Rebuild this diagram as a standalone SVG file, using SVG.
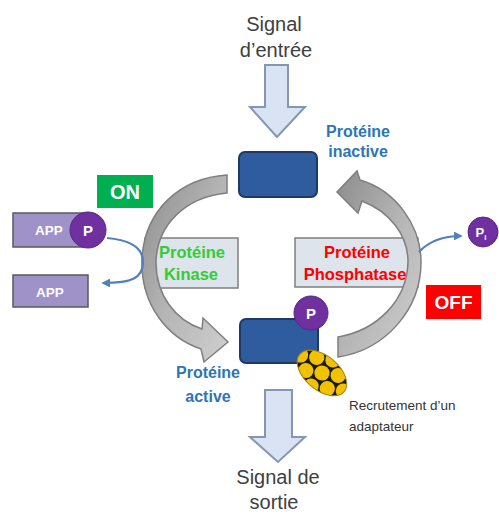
<svg xmlns="http://www.w3.org/2000/svg" width="499" height="514" viewBox="0 0 499 514">
<defs>
<style>
.lbl{font-family:"Liberation Sans",Arial,sans-serif;fill:#404040;font-size:20px;text-anchor:middle}
.blue{font-family:"Liberation Sans",Arial,sans-serif;fill:#2e75b6;font-size:16px;font-weight:bold;text-anchor:middle}
.enz{font-family:"Liberation Sans",Arial,sans-serif;font-size:16.5px;font-weight:bold;text-anchor:middle}
.wt{font-family:"Liberation Sans",Arial,sans-serif;fill:#ffffff;font-weight:bold;text-anchor:middle}
.small{font-family:"Liberation Sans",Arial,sans-serif;fill:#333333;font-size:13.5px}
.hollow{fill:#dae3f3;stroke:#8497b0;stroke-width:2}
.prot{fill:#2e5c9e;stroke:#1f3864;stroke-width:2}
.enzbox{fill:#dde4ec;stroke:#7f7f7f;stroke-width:1.5}
.app{fill:#9e92c8;stroke:#595959;stroke-width:1.5}
.pc{fill:#7030a0;stroke:#5a2585;stroke-width:1}
.garrow{fill:url(#gg);stroke:#7f7f7f;stroke-width:1.5}
.conn{fill:none;stroke:#4f81bd;stroke-width:2.2}
</style>
<linearGradient id="gg" x1="0" y1="0" x2="1" y2="1">
<stop offset="0" stop-color="#8c8c8c"/>
<stop offset="0.5" stop-color="#b5b5b5"/>
<stop offset="1" stop-color="#cfcfcf"/>
</linearGradient>
<marker id="ah" viewBox="0 0 10 10" refX="8" refY="5" markerWidth="4" markerHeight="4" orient="auto">
<path d="M0,0 L10,5 L0,10 z" fill="#4f81bd"/>
</marker>
<clipPath id="ec"><ellipse cx="0" cy="0" rx="29" ry="17"/></clipPath>
</defs>

<g id="signal-in">
<text class="lbl" x="274" y="31">Signal</text>
<text class="lbl" x="276" y="57">d’entrée</text>
<path class="hollow" d="M265,65 L288,65 L288,107 L305,107 L277,137 L250,107 L265,107 Z"/>
</g>

<g id="enzyme-boxes">
<rect class="enzbox" x="145" y="238" width="93" height="50"/>
<rect class="enzbox" x="295" y="238" width="123" height="49"/>
</g>

<g id="connectors">
<path class="garrow" d="M227,175 C180,178 145,210 142,258 C140,305 168,338 201,349 L204,362 L228,342 L203,318 L202,329 C175,320 156,295 156,262 C157,225 185,197 227,193 Z"/>
<path class="garrow" d="M337,192 L357,171 L360,180 C395,190 421,225 421,262 C421,310 385,350 338,357 L338,337 C378,330 407,300 408,262 C408,235 390,212 362,201 L358,213 Z"/>
<path class="conn" d="M107,238 C130,240 143,248 143,262 C143,278 132,283 103,283" marker-end="url(#ah)"/>
<path class="conn" d="M419,252 C430,240 445,236 461,236" marker-end="url(#ah)"/>
</g>

<g id="kinase">
<text class="enz" x="192" y="258" fill="#33cc33">Protéine</text>
<text class="enz" x="191" y="280" fill="#33cc33">Kinase</text>
</g>

<g id="phosphatase">
<text class="enz" x="357" y="258" fill="#ff0000">Protéine</text>
<text class="enz" x="355" y="280" fill="#ff0000">Phosphatase</text>
</g>

<g id="protein-inactive">
<rect class="prot" x="239" y="152" width="78" height="45" rx="6"/>
<text class="blue" x="358" y="137">Protéine</text>
<text class="blue" x="358" y="157">inactive</text>
</g>

<g id="protein-active">
<rect class="prot" x="240" y="319" width="78" height="44" rx="6"/>
<circle class="pc" cx="311" cy="313" r="17"/>
<text class="wt" x="311" y="319" font-size="15">P</text>
<text class="blue" x="208" y="378">Protéine</text>
<text class="blue" x="208" y="402">active</text>
</g>

<g id="adaptor" transform="translate(322,373) rotate(40)">
<ellipse cx="0" cy="0" rx="29" ry="17" fill="#1a1a1a"/>
<g clip-path="url(#ec)" fill="#f2c200">
<circle cx="0" cy="0" r="7.6"/>
<circle cx="-14" cy="-8.5" r="7.6"/>
<circle cx="-14" cy="8.5" r="7.6"/>
<circle cx="14" cy="-8.5" r="7.6"/>
<circle cx="14" cy="8.5" r="7.6"/>
<circle cx="-28" cy="0" r="7.6"/>
<circle cx="28" cy="0" r="7.6"/>
<circle cx="0" cy="-17" r="7.6"/>
<circle cx="0" cy="17" r="7.6"/>
</g>
<ellipse cx="0" cy="0" rx="29" ry="17" fill="none" stroke="#a88a10" stroke-width="1"/>
</g>
<g id="adaptor-label">
<text class="small" x="349" y="410">Recrutement d’un</text>
<text class="small" x="349" y="431">adaptateur</text>
</g>

<g id="signal-out">
<path class="hollow" d="M265,390 L292,390 L292,437 L305,437 L278,462 L250,437 L265,437 Z"/>
<text class="lbl" x="278" y="484">Signal de</text>
<text class="lbl" x="274" y="509">sortie</text>
</g>

<g id="on">
<rect x="97" y="175" width="56" height="33" fill="#00b050"/>
<text class="wt" x="125" y="199" font-size="20">ON</text>
</g>

<g id="off">
<rect x="426" y="285" width="55" height="34" fill="#ff0000"/>
<text class="wt" x="453.5" y="309" font-size="19">OFF</text>
</g>

<g id="app-p">
<rect class="app" x="13" y="213" width="75" height="34"/>
<text class="wt" x="49" y="235" font-size="13.5">APP</text>
<circle class="pc" cx="88" cy="230" r="18"/>
<text class="wt" x="88" y="236" font-size="15">P</text>
</g>

<g id="app">
<rect class="app" x="13" y="275" width="75" height="32"/>
<text class="wt" x="50" y="297" font-size="13.5">APP</text>
</g>

<g id="pi">
<circle class="pc" cx="483" cy="232" r="15"/>
<text class="wt" x="481" y="237" font-size="13">P<tspan font-size="8" dy="3">i</tspan></text>
</g>
</svg>
